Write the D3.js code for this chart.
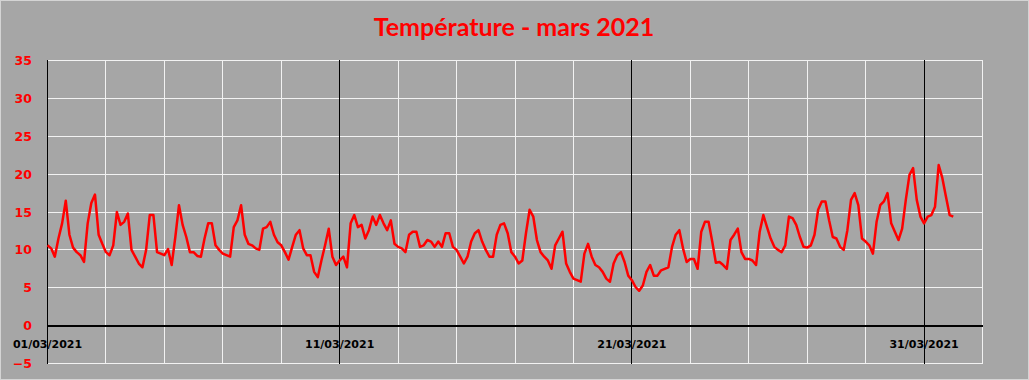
<!DOCTYPE html>
<html>
<head>
<meta charset="utf-8">
<script src="https://cdn.jsdelivr.net/npm/d3@7"></script>
<style>
  body { margin: 0; background: #a6a6a6; }
  svg { display: block; }
</style>
</head>
<body>
<div id="chart"></div>
<script>
// readings every 3 hours from 01/03/2021 00:00, one row per day
var startDate = new Date(2021, 2, 1);
var stepHours = 3;
var temps = [
  10.6, 10.2, 9.1, 11.5, 13.5, 16.5, 12.0, 10.3,
  9.7, 9.3, 8.4, 13.5, 16.2, 17.3, 12.0, 10.8,
  9.7, 9.3, 10.6, 15.0, 13.3, 13.7, 14.8, 10.0,
  9.1, 8.2, 7.7, 10.0, 14.6, 14.6, 9.7, 9.5,
  9.3, 10.1, 8.0, 11.7, 15.9, 13.3, 11.7, 9.7,
  9.7, 9.2, 9.1, 11.5, 13.5, 13.5, 10.6, 10.0,
  9.5, 9.3, 9.1, 13.0, 13.9, 15.9, 12.0, 10.8,
  10.6, 10.2, 10.0, 12.8, 13.0, 13.7, 12.0, 11.0,
  10.6, 9.7, 8.7, 10.4, 12.0, 12.6, 10.2, 9.3,
  9.3, 7.1, 6.4, 8.6, 10.6, 12.8, 9.1, 8.0,
  8.6, 9.1, 7.7, 13.5, 14.6, 13.0, 13.3, 11.5,
  12.6, 14.4, 13.3, 14.6, 13.5, 12.6, 13.9, 10.8,
  10.4, 10.2, 9.7, 12.0, 12.4, 12.4, 10.4, 10.6,
  11.3, 11.1, 10.4, 11.1, 10.4, 12.2, 12.2, 10.4,
  10.0, 9.1, 8.2, 9.1, 11.1, 12.2, 12.6, 11.1,
  10.0, 9.1, 9.1, 12.0, 13.3, 13.5, 12.2, 9.7,
  9.1, 8.2, 8.6, 12.2, 15.3, 14.4, 11.3, 9.7,
  9.1, 8.6, 7.5, 10.6, 11.5, 12.4, 8.2, 7.1,
  6.2, 6.0, 5.8, 9.5, 10.8, 9.1, 8.0, 7.7,
  7.1, 6.2, 5.8, 8.2, 9.3, 9.7, 8.4, 6.6,
  6.0, 5.1, 4.6, 5.3, 7.1, 8.0, 6.6, 6.6,
  7.3, 7.5, 7.7, 10.4, 12.0, 12.6, 10.2, 8.4,
  8.8, 8.8, 7.5, 12.4, 13.7, 13.7, 11.1, 8.3,
  8.4, 8.0, 7.5, 11.3, 12.0, 12.8, 9.7, 8.8,
  8.8, 8.6, 8.0, 12.4, 14.6, 13.0, 11.5, 10.4,
  10.0, 9.7, 10.6, 14.4, 14.2, 13.3, 11.7, 10.4,
  10.3, 10.6, 12.0, 15.3, 16.4, 16.4, 13.9, 11.7,
  11.5, 10.4, 10.0, 12.6, 16.6, 17.5, 15.9, 11.5,
  11.1, 10.6, 9.5, 13.7, 15.9, 16.4, 17.5, 13.5,
  12.4, 11.3, 12.8, 16.6, 19.9, 20.8, 16.6, 14.4,
  13.5, 14.4, 14.6, 15.7, 21.2, 19.5, 17.0, 14.6,
  14.4
];
var xTickLabels = ["01/03/2021", "11/03/2021", "21/03/2021", "31/03/2021"];
var yTicks = [-5, 0, 5, 10, 15, 20, 25, 30, 35];
var title = "Température - mars 2021";

var svgWidth = 1029;
var svgHeight = 380;
var margin = { top: 60, right: 47, bottom: 17, left: 47 };
var width = svgWidth - margin.left - margin.right;
var height = svgHeight - margin.top - margin.bottom;

var parseLabel = d3.timeParse("%d/%m/%Y");

var data = temps.map(function(t, i) {
  return { date: d3.timeHour.offset(startDate, i * stepHours), temp: t };
});

var svg = d3.select("#chart")
  .append("svg")
  .attr("width", svgWidth)
  .attr("height", svgHeight);

// background and thin frame
svg.append("rect")
  .attr("x", 0.5).attr("y", 0.5)
  .attr("width", svgWidth - 1).attr("height", svgHeight - 1)
  .attr("fill", "#a6a6a6")
  .attr("stroke", "#d4d4d4");

svg.append("text")
  .attr("x", 514)
  .attr("y", 36)
  .attr("text-anchor", "middle")
  .attr("fill", "#ff0000")
  .attr("font-family", "Lato, 'Open Sans', sans-serif")
  .attr("font-weight", "bold")
  .attr("font-size", 25)
  .text(title);

var chartGroup = svg.append("g")
  .attr("transform", `translate(${margin.left}, ${margin.top})`);

var xScale = d3.scaleTime()
  .domain([startDate, new Date(2021, 3, 2)])
  .range([0.5, width + 0.5]);

var yScale = d3.scaleLinear()
  .domain([-5, 35])
  .range([height + 0.5, 0.5]);

var px = v => Math.round(v - 0.5) + 0.5;

// white grid: every 5 degrees, every 2 days
chartGroup.append("g")
  .selectAll("line")
  .data(yTicks)
  .enter()
  .append("line")
  .attr("x1", 0).attr("x2", width + 1)
  .attr("y1", d => px(yScale(d)))
  .attr("y2", d => px(yScale(d)))
  .attr("stroke", "#f2f2f2")
  .attr("shape-rendering", "crispEdges");

chartGroup.append("g")
  .selectAll("line")
  .data(d3.timeDay.range(startDate, new Date(2021, 3, 3), 2))
  .enter()
  .append("line")
  .attr("x1", d => px(xScale(d)))
  .attr("x2", d => px(xScale(d)))
  .attr("y1", 0).attr("y2", height + 1)
  .attr("stroke", "#f2f2f2")
  .attr("shape-rendering", "crispEdges");

// black major lines at the labelled dates
chartGroup.append("g")
  .selectAll("line")
  .data(xTickLabels)
  .enter()
  .append("line")
  .attr("x1", d => px(xScale(parseLabel(d))))
  .attr("x2", d => px(xScale(parseLabel(d))))
  .attr("y1", 0).attr("y2", height + 1)
  .attr("stroke", "#000")
  .attr("shape-rendering", "crispEdges");

// zero line
chartGroup.append("rect")
  .attr("x", 0).attr("width", width + 1)
  .attr("y", Math.round(yScale(0)) - 1).attr("height", 2)
  .attr("fill", "#000");

// y labels
var leftAxis = d3.axisLeft(yScale).tickValues(yTicks).tickSize(0).tickPadding(15);
var yAxis = chartGroup.append("g").call(leftAxis);
yAxis.select(".domain").remove();
yAxis.selectAll("text")
  .attr("fill", "#ff0000")
  .attr("font-family", "'DejaVu Sans', sans-serif")
  .attr("font-weight", "bold")
  .attr("font-size", 12.5);

// x labels under the zero line
chartGroup.append("g")
  .selectAll("text")
  .data(xTickLabels)
  .enter()
  .append("text")
  .attr("x", d => xScale(parseLabel(d)))
  .attr("y", yScale(0) + 22)
  .attr("text-anchor", "middle")
  .attr("fill", "#000")
  .attr("font-family", "'DejaVu Sans', sans-serif")
  .attr("font-weight", "bold")
  .attr("font-size", 11)
  .text(d => d);

var line = d3.line()
  .x(d => xScale(d.date))
  .y(d => yScale(d.temp));

chartGroup.append("path")
  .datum(data)
  .attr("d", line)
  .attr("fill", "none")
  .attr("stroke", "#ff0000")
  .attr("stroke-width", 2.5)
  .attr("stroke-linejoin", "round");
</script>
</body>
</html>
